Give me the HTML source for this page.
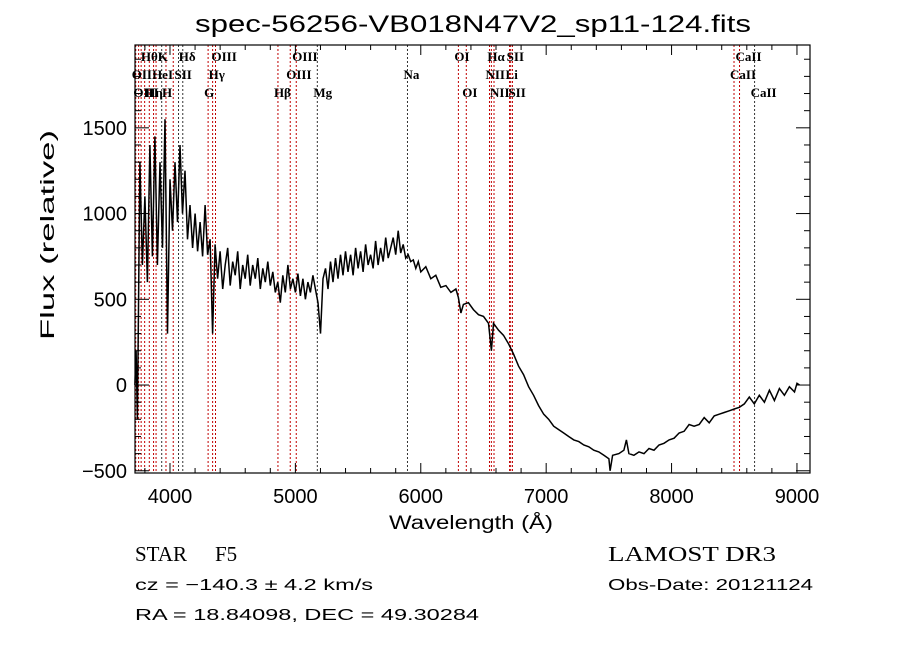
<!DOCTYPE html>
<html><head><meta charset="utf-8"><style>
html,body{margin:0;padding:0;background:#fff;}
svg{display:block;}
text{font-family:"Liberation Sans",sans-serif;fill:#000;}
.ser{font-family:"Liberation Serif",serif;}
</style></head><body>
<svg id="chart" width="900" height="649" xmlns="http://www.w3.org/2000/svg">
<rect width="900" height="649" fill="#fff"/>
<text x="473" y="32" font-size="24" text-anchor="middle" textLength="556" lengthAdjust="spacingAndGlyphs">spec-56256-VB018N47V2_sp11-124.fits</text>
<g id="lines"></g>
<g id="spec"></g>
<g id="axes"></g>
<text x="471" y="529" font-size="19" text-anchor="middle" textLength="164" lengthAdjust="spacingAndGlyphs">Wavelength (Å)</text>
<text transform="translate(54,235) rotate(-90)" font-size="19" text-anchor="middle" textLength="210" lengthAdjust="spacingAndGlyphs">Flux (relative)</text>
<text x="135" y="561" font-size="21" class="ser">STAR</text>
<text x="215" y="561" font-size="21" class="ser">F5</text>
<text x="608" y="561" font-size="21" class="ser" textLength="168" lengthAdjust="spacingAndGlyphs">LAMOST DR3</text>
<text x="135" y="590" font-size="16" textLength="238" lengthAdjust="spacingAndGlyphs">cz = −140.3 ± 4.2 km/s</text>
<text x="608" y="590" font-size="16" textLength="205" lengthAdjust="spacingAndGlyphs">Obs-Date: 20121124</text>
<text x="135" y="620" font-size="16" textLength="344" lengthAdjust="spacingAndGlyphs">RA =  18.84098, DEC =  49.30284</text>
</svg>
<script>
const wavelengths=[3720,3730,3740,3760,3780,3800,3820,3840,3860,3880,3900,3920,3940,3960,3980,4000,4020,4040,4060,4080,4100,4120,4140,4160,4180,4200,4220,4240,4260,4280,4300,4320,4340,4360,4380,4400,4420,4440,4460,4480,4500,4520,4540,4560,4580,4600,4620,4640,4660,4680,4700,4720,4740,4760,4780,4800,4820,4840,4860,4880,4900,4920,4940,4960,4980,5000,5020,5040,5060,5080,5100,5120,5140,5160,5180,5200,5220,5240,5260,5280,5300,5320,5340,5360,5380,5400,5420,5440,5460,5480,5500,5520,5540,5560,5580,5600,5620,5640,5660,5680,5700,5720,5740,5760,5780,5800,5820,5840,5860,5880,5900,5920,5940,5960,5980,6000,6040,6080,6120,6160,6200,6240,6280,6300,6320,6340,6380,6420,6460,6500,6540,6563,6580,6620,6660,6700,6740,6780,6820,6860,6900,6940,6980,7020,7060,7100,7140,7180,7220,7260,7300,7340,7380,7420,7460,7500,7510,7530,7580,7620,7640,7660,7700,7740,7780,7820,7860,7900,7940,7980,8020,8060,8100,8140,8180,8220,8260,8300,8340,8380,8420,8460,8500,8540,8580,8620,8660,8700,8740,8780,8820,8860,8900,8940,8980,9000,9020];
const fluxValues=[0,200,-200,1300,700,1100,600,1400,750,1450,700,1300,800,1550,300,1200,900,1300,950,1400,1000,1250,850,1050,800,1000,780,950,750,1050,760,850,300,820,620,780,560,700,800,580,720,640,780,560,700,620,760,580,700,620,740,560,680,600,720,580,660,540,600,480,640,540,700,560,620,540,650,520,620,500,600,540,640,560,480,300,620,680,560,720,600,740,620,760,640,780,660,760,640,800,680,780,660,820,700,760,680,840,700,800,720,860,740,800,860,760,900,770,820,740,760,720,730,680,720,660,690,620,640,570,580,540,560,510,420,470,480,440,410,400,360,200,360,320,290,240,180,110,60,-10,-60,-120,-170,-200,-240,-260,-280,-300,-320,-330,-350,-360,-380,-390,-410,-430,-500,-410,-400,-380,-320,-400,-410,-390,-400,-370,-380,-350,-340,-320,-310,-280,-270,-230,-240,-230,-190,-220,-180,-170,-160,-150,-140,-130,-110,-70,-110,-60,-100,-30,-90,-20,-60,-10,-40,10,0];
const xTicks=[4000,5000,6000,7000,8000,9000];
const yTicks=[-500,0,500,1000,1500];
const lineWaves=[3727,3750,3770,3798,3835,3869,3889,3934,3968,4026,4068,4102,4304,4340,4363,4861,4959,5007,5175,5894,6300,6363,6548,6563,6584,6708,6717,6731,8498,8542,8662];
const lineRed=[1,1,1,1,1,1,1,0,1,1,0,0,1,1,1,1,1,1,0,0,1,1,1,1,1,1,1,1,1,1,0];
const labelText=["Hθ","K","Hδ","OIII","OIII","OI","Hα","SII","CaII","OII","HeI","SII","Hγ","OIII","Na","NII","Li","CaII","OIII","Hη","H","G","Hβ","Mg","OI","NII","SII","CaII"];
const labelWave=[3800,3934,4102,4363,5007,6300,6563,6717,8542,3727,3889,4068,4340,4959,5894,6548,6708,8498,3740,3835,3968,4304,4861,5175,6363,6584,6731,8662];
const labelRow=[0,0,0,0,0,0,0,0,0,1,1,1,1,1,1,1,1,1,2,2,2,2,2,2,2,2,2,2];
const X0=3721,X1=9104,Y0=-513,Y1=1983,L=135,R=810,T=45,B=473;
function xs(v){return L+(v-X0)/(X1-X0)*(R-L);}
function ys(v){return B-(v-Y0)/(Y1-Y0)*(B-T);}
const NS="http://www.w3.org/2000/svg";
function mk(t,a,p){const e=document.createElementNS(NS,t);for(const k in a)e.setAttribute(k,a[k]);p.appendChild(e);return e;}
const lg=document.getElementById('lines');
lineWaves.forEach((w,i)=>{const l=mk('line',{x1:xs(w),x2:xs(w),y1:T,y2:B,stroke:lineRed[i]?'#c00000':'#333','stroke-width':1,'stroke-dasharray':'2,2'},lg);

});
const rowY=[61,79,97];
labelText.forEach((t,i)=>{const e=mk('text',{x:xs(labelWave[i])-4,y:rowY[labelRow[i]],'font-size':13,'font-weight':'bold',class:'ser'},lg);e.textContent=t;

});
const sg=document.getElementById('spec');
let d='';wavelengths.forEach((w,i)=>{d+=(i?'L':'M')+xs(w).toFixed(1)+','+ys(fluxValues[i]).toFixed(1);});
const p=mk('path',{d:d,fill:'none',stroke:'#000','stroke-width':1.5},sg);


const ag=document.getElementById('axes');
const fr=mk('rect',{x:L,y:T,width:R-L,height:B-T,fill:'none',stroke:'#000','stroke-width':1.2},ag);


for(let w=3800;w<=9100;w+=200){const big=w%1000===0;const h=big?10:5;const x=xs(w);
mk('line',{x1:x,x2:x,y1:B,y2:B-h,stroke:'#000'},ag);mk('line',{x1:x,x2:x,y1:T,y2:T+h,stroke:'#000'},ag);}
for(let v=-500;v<=1900;v+=100){const big=v%500===0;const h=big?14:6;const y=ys(v);
mk('line',{x1:L,x2:L+h,y1:y,y2:y,stroke:'#000'},ag);mk('line',{x1:R,x2:R-h,y1:y,y2:y,stroke:'#000'},ag);}
xTicks.forEach(v=>{const t=mk('text',{x:xs(v),y:503,'font-size':20,'text-anchor':'middle'},ag);t.textContent=v;

});
yTicks.forEach(v=>{const t=mk('text',{x:127,y:ys(v)+7,'font-size':20,'text-anchor':'end'},ag);t.textContent=v<0?'−'+(-v):v;

});
</script>
</body></html>
